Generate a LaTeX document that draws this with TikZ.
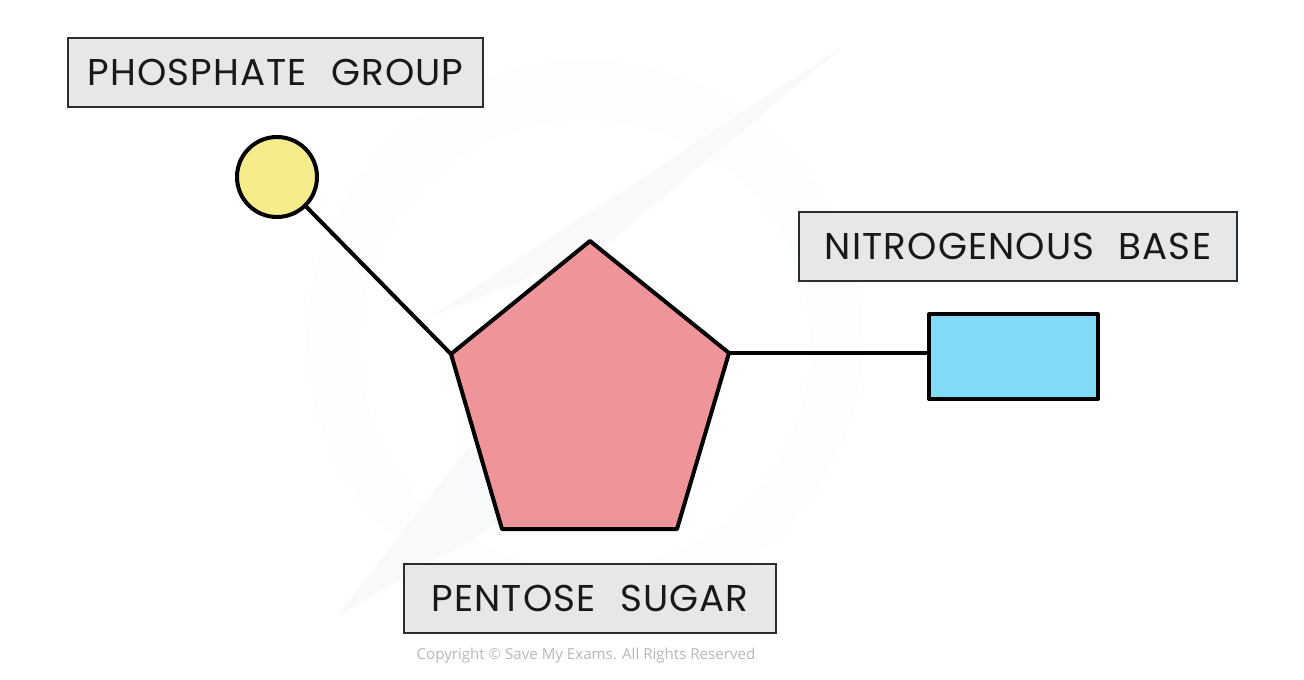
\documentclass[tikz,border=0pt]{standalone}
\usepackage{fontspec}
\setmainfont{Poppins}
\newfontfamily\labelfont[LetterSpace=3,WordSpace=2.2]{Poppins}
\newfontfamily\copyfont{Open Sans}
\definecolor{boxgrey}{HTML}{E6E7E8}
\definecolor{boxline}{HTML}{2B2E30}
\definecolor{sugarpink}{HTML}{EF9499}
\definecolor{phosyellow}{HTML}{F6EC8C}
\definecolor{baseblue}{HTML}{80DAF8}
\definecolor{markfaint}{HTML}{FBFDFE}
\definecolor{swooshfaint}{HTML}{F8F9FA}
\definecolor{copygrey}{HTML}{B8B8B8}
\tikzset{
  labelbox/.style={draw=boxline,fill=boxgrey,line width=1.5pt,minimum height=69pt,inner sep=0pt,anchor=center,text=black!90,font=\labelfont\fontsize{37.3}{37.3}\selectfont},
  shapeline/.style={draw=black,line width=4pt,line join=round},
  bond/.style={draw=black,line width=4pt},
  watermark/.style={fill=markfaint,draw=none},
  swoosh/.style={fill=swooshfaint,draw=none}
}
\begin{document}
\begin{tikzpicture}[x=1pt,y=-1pt]
\useasboundingbox (0,0) rectangle (1304,680);
\fill[white] (0,0) rectangle (1304,680);
% faint watermark
\fill[watermark,even odd rule] (585,338) circle[radius=278] (585,345) circle[radius=225];
\fill[swoosh] (845,45) -- (428,318) -- (600,250) -- cycle;
\fill[swoosh] (336,617) -- (470,445) -- (540,500) -- cycle;
% pentagon corners
\coordinate (pA) at (590,241);
\coordinate (pB) at (729,353);
\coordinate (pC) at (677,529);
\coordinate (pD) at (502,529);
\coordinate (pE) at (451,354);
\node[circle,shapeline,fill=phosyellow,minimum size=80pt,inner sep=0pt] (phos) at (277,177) {};
\node[rectangle,shapeline,fill=baseblue,minimum width=169pt,minimum height=85pt,inner sep=0pt] (base) at (1013.5,356.5) {};
\draw[bond] (phos) -- (pE);
\draw[bond] (pB) -- (pB -| base.west);
\path[shapeline,fill=sugarpink] (pA) -- (pB) -- (pC) -- (pD) -- (pE) -- cycle;
\node[labelbox,minimum width=415pt] (l1) at (275.5,72.5) {PHOSPHATE GROUP};
\node[labelbox,minimum width=438pt] (l2) at (1018,246.5) {NITROGENOUS BASE};
\node[labelbox,minimum width=372pt] (l3) at (590,598.5) {PENTOSE SUGAR};
\node[text=copygrey,font=\copyfont\fontsize{15.1}{16}\selectfont,inner sep=0pt] (copy) at (586,655.5) {Copyright © Save My Exams. All Rights Reserved};
\end{tikzpicture}
\end{document}
